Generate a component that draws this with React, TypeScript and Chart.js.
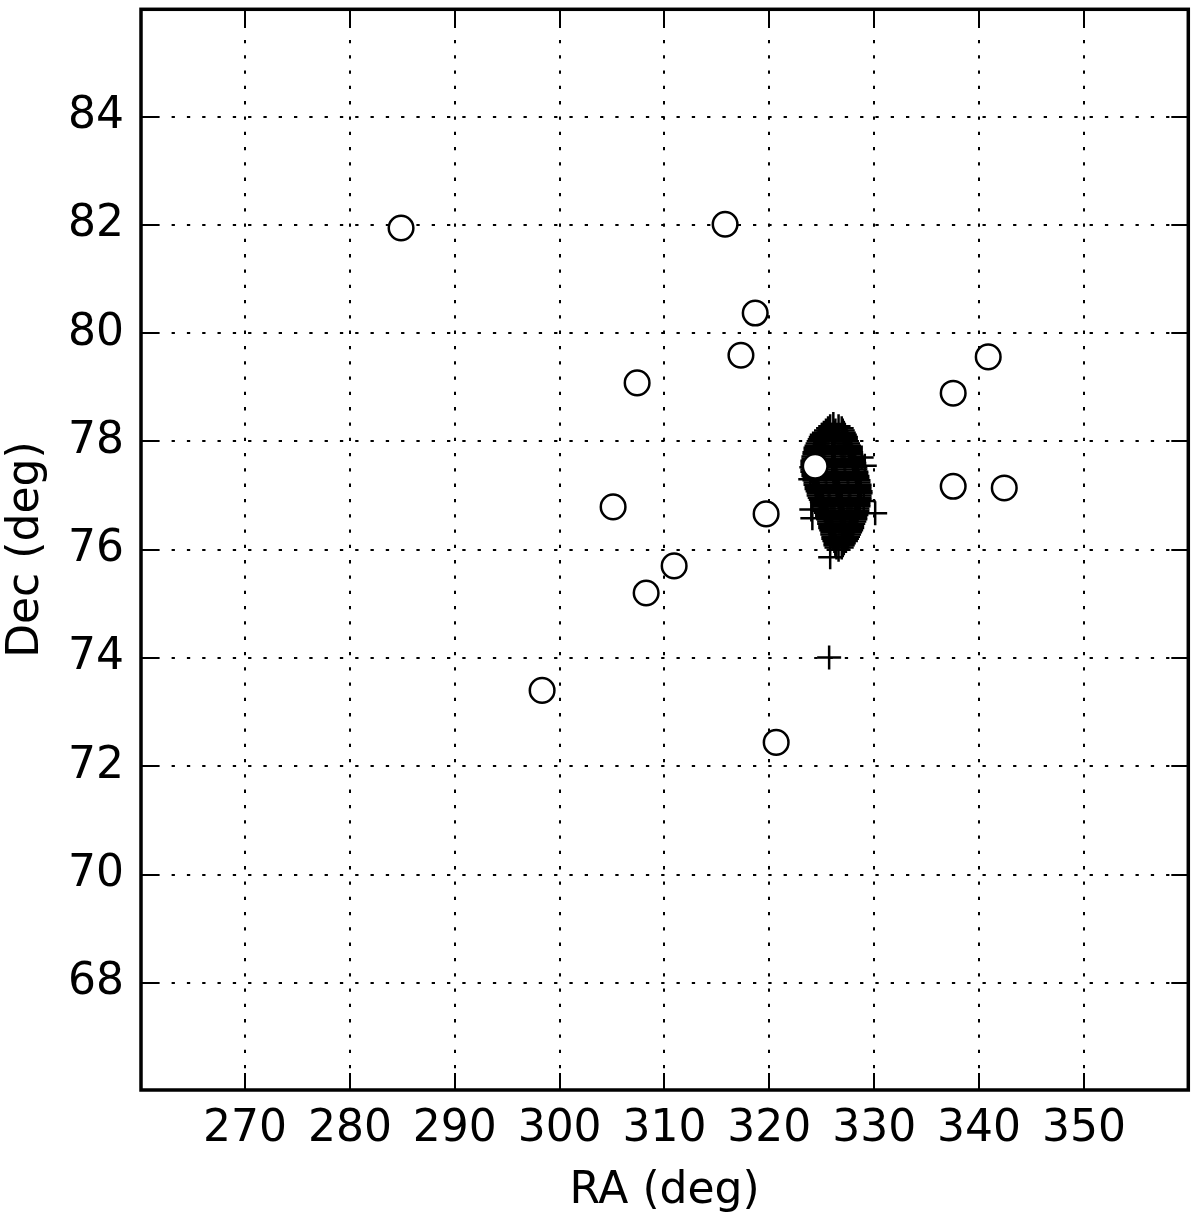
import React, { useEffect, useRef } from "react";
import { Chart, registerables } from "chart.js";

Chart.register(...registerables);

// ---- data ----
const xTicks = [270, 280, 290, 300, 310, 320, 330, 340, 350];
const yTicks = [68, 70, 72, 74, 76, 78, 80, 82, 84];
const xLimits = [260.08, 359.95];
const yLimits = [66.02, 85.98];
const xTitle = "RA (deg)";
const yTitle = "Dec (deg)";

// open circles (RA, Dec)
const circleRA = [284.88, 315.78, 318.65, 317.29, 307.39, 337.53, 340.87, 337.53, 342.4, 305.1, 319.69, 310.92, 308.25, 298.33, 320.65, 324.37];
const circleDec = [81.94, 82.01, 80.37, 79.59, 79.08, 78.89, 79.56, 77.17, 77.14, 76.79, 76.66, 75.7, 75.2, 73.4, 72.44, 77.54];

// plus markers: dense cluster (RA, Dec)
const plusPoints: [number, number][] = [
  [326.1, 78.32],
  [325.8, 78.28], [326.6, 78.28],
  [325.6, 78.24], [326.9, 78.24],
  [325.4, 78.2], [326.3, 78.2], [327.0, 78.2],
  [325.2, 78.16], [326.2, 78.16], [327.1, 78.16],
  [325.0, 78.12], [326.0, 78.12], [327.2, 78.12],
  [324.9, 78.08], [326.1, 78.08], [327.3, 78.08],
  [324.8, 78.04], [326.0, 78.04], [327.3, 78.04],
  [324.7, 78.0], [326.2, 78.0], [327.4, 78.0],
  [324.6, 77.96], [326.0, 77.96], [327.5, 77.96],
  [324.5, 77.92], [326.1, 77.92], [327.6, 77.92],
  [324.4, 77.88], [326.0, 77.88], [327.6, 77.88],
  [324.4, 77.84], [326.2, 77.84], [327.7, 77.84],
  [324.3, 77.8], [326.1, 77.8], [327.8, 77.8],
  [324.3, 77.76], [326.0, 77.76], [327.8, 77.76],
  [324.2, 77.72], [326.2, 77.72], [327.9, 77.72],
  [324.2, 77.68], [326.1, 77.68], [328.0, 77.68],
  [324.1, 77.64], [326.0, 77.64], [328.0, 77.64],
  [324.1, 77.6], [326.2, 77.6], [328.1, 77.6],
  [324.1, 77.56], [326.1, 77.56], [328.1, 77.56],
  [324.0, 77.52], [326.0, 77.52], [328.2, 77.52],
  [324.1, 77.48], [326.2, 77.48], [328.2, 77.48],
  [324.1, 77.44], [326.1, 77.44], [328.3, 77.44],
  [324.2, 77.4], [326.3, 77.4], [328.3, 77.4],
  [324.2, 77.36], [326.2, 77.36], [328.4, 77.36],
  [324.3, 77.32], [326.4, 77.32], [328.4, 77.32],
  [324.3, 77.28], [326.3, 77.28], [328.5, 77.28],
  [324.4, 77.24], [326.5, 77.24], [328.5, 77.24],
  [324.4, 77.2], [326.4, 77.2], [328.6, 77.2],
  [324.5, 77.16], [326.5, 77.16], [328.6, 77.16],
  [324.5, 77.12], [326.6, 77.12], [328.6, 77.12],
  [324.6, 77.08], [326.5, 77.08], [328.7, 77.08],
  [324.7, 77.04], [326.6, 77.04], [328.7, 77.04],
  [324.7, 77.0], [326.7, 77.0], [328.6, 77.0],
  [324.8, 76.96], [326.6, 76.96], [328.6, 76.96],
  [324.9, 76.92], [326.8, 76.92], [328.6, 76.92],
  [325.0, 76.88], [326.7, 76.88], [328.5, 76.88],
  [325.1, 76.84], [326.9, 76.84], [328.5, 76.84],
  [325.1, 76.8], [326.8, 76.8], [328.5, 76.8],
  [325.2, 76.76], [326.9, 76.76], [328.4, 76.76],
  [325.3, 76.72], [326.8, 76.72], [328.4, 76.72],
  [325.4, 76.68], [327.0, 76.68], [328.3, 76.68],
  [325.5, 76.64], [326.9, 76.64], [328.3, 76.64],
  [325.5, 76.6], [327.0, 76.6], [328.2, 76.6],
  [325.6, 76.56], [327.1, 76.56], [328.2, 76.56],
  [325.7, 76.52], [327.0, 76.52], [328.1, 76.52],
  [325.7, 76.48], [327.1, 76.48], [328.0, 76.48],
  [325.8, 76.44], [327.0, 76.44], [327.9, 76.44],
  [325.8, 76.4], [327.2, 76.4], [327.9, 76.4],
  [325.9, 76.36], [327.0, 76.36], [327.8, 76.36],
  [326.0, 76.32], [327.7, 76.32],
  [326.0, 76.28], [327.6, 76.28],
  [326.1, 76.24], [327.5, 76.24],
  [326.1, 76.2], [327.4, 76.2],
  [326.2, 76.16], [327.3, 76.16],
  [326.3, 76.12], [327.1, 76.12],
  [326.3, 76.08], [327.0, 76.08],
  [326.4, 76.04], [326.9, 76.04],
  [326.6, 76.0],
  [325.8, 75.86],
  [324.0, 76.74], [324.1, 76.58], [323.9, 77.3], [325.3, 78.14],
  [329.0, 76.9], [328.8, 77.7], [329.1, 77.55],
  [330.09, 76.67],
  [325.7, 74.01],
];

const FONT = '"DejaVu Sans", "Liberation Sans", sans-serif';

const framePlugin = {
  id: "mplFrame",
  afterDraw(chart: any) {
    const { ctx, chartArea } = chart;
    const { left, right, top, bottom } = chartArea;
    const xs = chart.scales.x;
    const ys = chart.scales.y;
    const tickLen = 17;
    ctx.save();
    ctx.strokeStyle = "#000";
    ctx.lineWidth = 2;
    ctx.setLineDash([]);
    ctx.beginPath();
    for (const v of xTicks) {
      const px = Math.round(xs.getPixelForValue(v));
      ctx.moveTo(px, bottom);
      ctx.lineTo(px, bottom - tickLen);
      ctx.moveTo(px, top);
      ctx.lineTo(px, top + tickLen);
    }
    for (const v of yTicks) {
      const py = Math.round(ys.getPixelForValue(v));
      ctx.moveTo(left, py);
      ctx.lineTo(left + tickLen, py);
      ctx.moveTo(right, py);
      ctx.lineTo(right - tickLen, py);
    }
    ctx.stroke();
    ctx.lineWidth = 3.5;
    ctx.strokeRect(left, top, right - left, bottom - top);

    ctx.fillStyle = "#000";
    ctx.font = `44px ${FONT}`;
    ctx.textAlign = "center";
    ctx.textBaseline = "alphabetic";
    ctx.fillText(xTitle, (left + right) / 2, 1203);
    ctx.translate(38, (top + bottom) / 2);
    ctx.rotate(-Math.PI / 2);
    ctx.fillText(yTitle, 0, 0);
    ctx.restore();
  },
};

export default function App() {
  const ref = useRef<HTMLCanvasElement | null>(null);

  useEffect(() => {
    if (!ref.current) return;
    const tickFont = { family: FONT, size: 44 };
    const chart = new Chart(ref.current, {
      type: "scatter",
      data: {
        datasets: [
          {
            label: "circles",
            order: 0,
            data: circleRA.map((x, i) => ({ x, y: circleDec[i] })),
            pointStyle: "circle",
            pointRadius: 12.3,
            pointHoverRadius: 12.3,
            backgroundColor: "#ffffff",
            borderColor: "#000000",
            borderWidth: 2.5,
          },
          {
            label: "pluses",
            order: 1,
            data: plusPoints.map(([x, y]) => ({ x, y })),
            pointStyle: "cross",
            pointRadius: 12,
            pointHoverRadius: 12,
            backgroundColor: "#000000",
            borderColor: "#000000",
            borderWidth: 2.5,
          },
        ],
      },
      options: {
        animation: false,
        responsive: false,
        devicePixelRatio: 1,
        events: [],
        layout: { autoPadding: false, padding: { left: 0, top: 9.3, right: 11.7, bottom: 0 } },
        plugins: {
          legend: { display: false },
          tooltip: { enabled: false },
        },
        scales: {
          x: {
            type: "linear",
            position: "bottom",
            min: xLimits[0],
            max: xLimits[1],
            afterBuildTicks: (s: any) => {
              s.ticks = xTicks.map((v) => ({ value: v }));
            },
            afterFit: (s: any) => {
              s.height = 130;
              s.paddingLeft = 0;
              s.paddingRight = 0;
            },
            grid: { color: "#000", lineWidth: 2, drawTicks: false },
            border: { display: false, dash: [3.3, 12] },
            ticks: {
              color: "#000",
              font: tickFont,
              padding: 13,
              autoSkip: false,
              maxRotation: 0,
              callback: (v: any) => String(v),
            },
          },
          y: {
            type: "linear",
            min: yLimits[0],
            max: yLimits[1],
            afterBuildTicks: (s: any) => {
              s.ticks = yTicks.map((v) => ({ value: v }));
            },
            afterFit: (s: any) => {
              s.width = 141;
              s.paddingTop = 0;
              s.paddingBottom = 0;
            },
            grid: { color: "#000", lineWidth: 2, drawTicks: false },
            border: { display: false, dash: [3.3, 12] },
            ticks: {
              color: "#000",
              font: tickFont,
              padding: 17,
              autoSkip: false,
              callback: (v: any) => String(v),
            },
          },
        },
      },
      plugins: [framePlugin],
    });
    return () => chart.destroy();
  }, []);

  return (
    <div style={{ position: "absolute", left: 0, top: 0, width: 1200, height: 1220, background: "#fff" }}>
      <canvas ref={ref} width={1200} height={1220} style={{ display: "block" }} />
    </div>
  );
}
